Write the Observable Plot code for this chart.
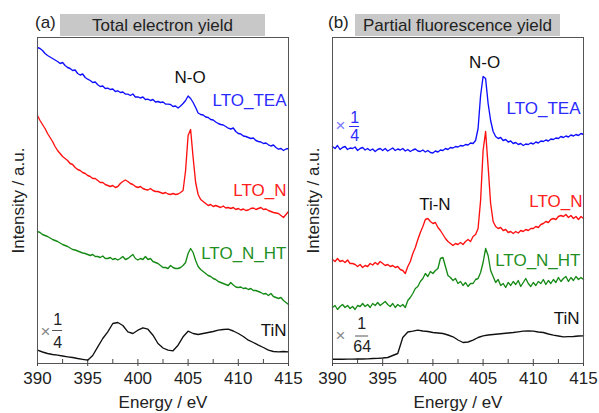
<!DOCTYPE html>
<html>
<head>
<meta charset="utf-8">
<script src="https://cdn.jsdelivr.net/npm/d3@7"></script>
<script src="https://cdn.jsdelivr.net/npm/@observablehq/plot@0.6"></script>
<style>
  body { margin: 0; background: #fff; font-family: "Liberation Sans", Arial, sans-serif; }
  #wrap { position: relative; width: 599px; height: 413px; overflow: hidden; background: #fff; }
  .hdr { position: absolute; top: 14px; width: 205px; height: 22px; background: #c8c8c8;
         font-size: 17px; line-height: 23px; text-align: center; color: #222; }
  .tag { position: absolute; top: 13px; font-size: 17px; line-height: 20px; color: #222; }
  #wrap svg { position: absolute; top: 0; }
</style>
</head>
<body>
<div id="wrap">
  <div class="tag" style="left:35px">(a)</div>
  <div class="hdr" style="left:60px">Total electron yield</div>
  <div class="tag" style="left:328px">(b)</div>
  <div class="hdr" style="left:355px">Partial fluorescence yield</div>
</div>
<script>
// Energy grids (eV)
const energyFine = d3.range(101).map(i => 390 + i * 0.25);
const energyCoarse = d3.range(51).map(i => 390 + i * 0.5);
const xTicks = [390, 395, 400, 405, 410, 415];
const xMinorTicks = [390, 392.5, 395, 397.5, 400, 402.5, 405, 407.5, 410, 412.5, 415];

// (a) Total electron yield, intensity (a.u., offset stacked)
const tey_LTO_TEA = [
  316, 315, 313, 310,
  308, 306.5, 305, 303.5,
  302, 300, 301, 298,
  296, 295, 293, 293.5,
  290, 288.5, 289.5, 286,
  284.3, 283, 281, 281.5,
  278.7, 277, 277.5, 275,
  275.3, 274, 274.5, 272,
  272.7, 271, 271.5, 269.5,
  269.3, 268, 269.5, 266.5,
  266.7, 265.5, 266.5, 264,
  264.3, 263, 264, 261.5,
  262, 261, 261.5, 259.5,
  259.3, 259, 257, 257.5,
  255.5, 257.5, 260, 263,
  267.5, 265, 261, 256,
  250.5, 249, 248.5, 246.5,
  246, 244, 243.5, 241.5,
  240, 239, 238.5, 237,
  235.3, 234.5, 235.5, 232,
  230, 229.5, 227.5, 227,
  226, 225, 225.5, 223,
  222, 221.5, 220, 220.5,
  218.7, 217.5, 218.5, 216,
  214.3, 215, 213, 214.5,
  215
];
const tey_LTO_N = [
  248, 243, 239, 235,
  230, 226, 222, 217,
  213, 210, 207, 205,
  203, 200, 199, 196,
  194, 193, 191, 190,
  188, 187, 185, 185,
  183, 181, 181, 179,
  178, 177, 178, 176,
  177, 180, 182, 183.5,
  182, 180, 179, 177,
  176, 177, 175, 174,
  173.5, 175, 173, 172,
  172, 171, 170, 171,
  169.5, 169, 170, 169,
  169.5, 171, 173, 193,
  228, 234, 206, 181,
  169, 164, 162, 160,
  158, 159, 157, 158,
  157, 156, 157.5, 155.5,
  156, 155, 156, 154,
  155, 153.5, 154.5, 153,
  153.5, 155, 155.5, 154,
  155, 156, 154, 154.5,
  153, 152, 151, 150.5,
  150, 148, 146, 149,
  152
];
const tey_LTO_N_HT = [
  132, 131, 129, 128,
  127, 125.5, 124, 123,
  122, 120.5, 119, 118,
  117, 115.5, 114, 113.5,
  112.5, 111.5, 110.5, 110,
  109, 108, 109, 107,
  107, 106, 107.5, 105,
  105, 106, 104, 105,
  103.5, 105, 107, 104,
  105, 107, 109, 105,
  103.5, 105, 104, 107,
  104, 105, 102, 101,
  100, 98, 96, 96,
  95, 98, 96, 95,
  95, 96, 98, 101,
  110, 115, 111, 103,
  97, 94, 92, 90,
  88, 87, 85, 84,
  82, 81, 80, 79,
  78, 81, 78.5, 76.5,
  76, 76.5, 75, 75.5,
  74, 75, 73, 73,
  72, 71, 69.5, 70,
  68, 70, 67, 66,
  65, 66, 63, 61,
  59
];
const tey_TiN = [
  13.3, 11.5, 10, 9, 8.3, 7.5, 6.7, 6, 5, 4.2,
  3.3, 8, 16.7, 25, 31.7, 40, 41, 38, 31.7, 30,
  33.3, 35.7, 34.3, 28.3, 20, 15.5, 13.3, 12.7, 18.3, 26.7,
  32.3, 30, 29, 30, 31, 32, 33.3, 34, 34.3, 32.5,
  30, 27, 23.3, 21, 18.3, 16, 13.3, 12, 11.7, 12,
  11.7
];

// (b) Partial fluorescence yield, intensity (a.u., offset stacked)
const pfy_LTO_TEA = [
  217, 215, 218, 214,
  216, 217, 214, 215.5,
  215, 216.5, 213, 215,
  216, 213.5, 215, 213,
  214.5, 212, 214, 215,
  213, 215, 212.5, 214,
  215.5, 213, 214.5, 213.5,
  215, 212.5, 214, 212,
  213.5, 214.5, 212.5, 212,
  213.5, 211.5, 213, 211,
  210.5, 212.5, 211.5, 213.5,
  213, 215, 214, 216,
  215.5, 217, 216.5, 218,
  217.5, 219, 218.5, 220.5,
  220, 223, 235, 268,
  287, 285, 260, 243,
  232, 227, 225, 226,
  223, 224, 221.5, 222.5,
  220, 221, 219, 220,
  218, 219.5, 219, 220.5,
  219.5, 221.5, 220.5, 222.5,
  222, 223.5, 222.5, 224.5,
  224, 225.5, 225, 227,
  226, 227.5, 226.5, 228.5,
  227.5, 229, 228, 230,
  229
];
const pfy_LTO_N = [
  104, 102, 105, 102,
  103, 101, 103.5, 100,
  100, 99, 97, 99,
  96, 98, 97, 100,
  98.5, 101, 99, 102,
  100, 98, 99, 97,
  98, 96, 97, 94,
  93, 90, 97, 102,
  110, 116, 124, 131,
  137, 144, 145, 142,
  140, 141, 136, 133,
  129, 125, 122, 120,
  118, 120, 119, 121,
  119, 122, 124, 122,
  127, 129, 135, 163,
  213, 232, 197, 160,
  142, 137, 135, 136,
  133, 134, 131, 132,
  130, 132, 130.5, 133,
  132, 134, 133, 135,
  135, 137, 136, 139,
  140, 142, 141, 144,
  145, 144, 147, 148,
  147, 149, 146, 148,
  145, 147, 144, 147,
  145
];
const pfy_LTO_N_HT = [
  56, 58, 54, 57,
  59, 56, 58, 55,
  57, 54, 58, 57,
  60, 57, 59, 56,
  60, 58, 61, 58,
  60, 62, 59, 57,
  60, 56, 59, 57,
  59, 56, 63, 66,
  70, 75, 77, 82,
  85, 90, 87, 92,
  90, 93, 95, 105,
  106, 97, 88, 86,
  83, 85, 80, 82,
  78, 81, 77, 80,
  80, 84, 85, 91,
  101, 115, 108, 93,
  87, 81, 84, 78,
  80, 76, 81, 78,
  82, 79, 83, 77,
  81, 85, 80, 77,
  81, 78, 82, 80,
  84, 79, 83, 80,
  84, 81, 86, 82,
  85, 87, 82, 86,
  83, 87, 84, 86,
  84
];
const pfy_TiN = [
  4.3, 4.3, 4.3, 4.4, 4.4, 4.5, 4.5, 4.7, 5, 5.2,
  5.5, 6, 8, 10, 26, 31.5, 32.3, 33.3, 32.5, 32,
  31, 30.5, 30, 28.5, 26.7, 23.5, 21, 21.5, 23.3, 26,
  27.7, 28.5, 29, 29.5, 30, 30.5, 31, 31.7, 32.3, 32.5,
  32.3, 31.5, 31, 29.5, 28.3, 27.5, 26.7, 26.8, 27, 27.5,
  27.7
];

const BLUE = "#0f0fff", RED = "#ff1010", GREEN = "#168a16", BLACK = "#111";
const BLUE_T = "#2b2bff", RED_T = "#ff2020", GREEN_T = "#1f8f1f";
const FONT = '"Liberation Sans", Arial, sans-serif';

function rows(energy, values) {
  return values.map((v, i) => ({E: energy[i], I: v}));
}
function lbl(E, I, t, opts = {}) {
  return Plot.text([{E, I, t}], {x: "E", y: "I", text: "t", fontSize: 17, lineAnchor: "middle", ...opts});
}

function makePanel(cfg) {
  const marks = [
    Plot.ruleX(xMinorTicks, {x: d => d, y1: 0, y2: 4, stroke: "#444", strokeWidth: 1}),
    ...cfg.series.map(s => Plot.line(rows(s.energy, s.values), {
      x: "E", y: "I", stroke: s.color, strokeWidth: 1.35, strokeLinejoin: "round"
    })),
    Plot.frame({stroke: "#555", strokeWidth: 1}),
    Plot.axisX({ticks: xTicks, tickSize: 3, tickPadding: 5, tickFormat: d => String(d),
                fontSize: 17, label: null, stroke: "#444", fill: "#222"}),
    Plot.text(["Energy / eV"], {frameAnchor: "bottom", dy: 39, fontSize: 17, lineAnchor: "middle", fill: "#222"}),
    Plot.text(["Intensity / a.u."], {frameAnchor: "left", dx: cfg.ylabDx, rotate: -90, fontSize: 17,
                lineAnchor: "middle", textAnchor: "middle", fill: "#222"}),
    ...cfg.labels
  ];
  const svg = Plot.plot({
    width: cfg.width, height: 413,
    marginTop: 37, marginBottom: 50, marginLeft: 37, marginRight: cfg.marginRight,
    x: {domain: [390, 415]},
    y: {domain: [0, 326], axis: null},
    style: {fontFamily: FONT, background: "transparent", color: "#222", overflow: "visible"},
    marks
  });
  svg.style.left = cfg.left + "px";
  return svg;
}

const wrap = document.getElementById("wrap");

// Panel (a)
wrap.appendChild(makePanel({
  left: 0, width: 311, marginRight: 23, ylabDx: -19,
  series: [
    {energy: energyFine, values: tey_LTO_TEA, color: BLUE},
    {energy: energyFine, values: tey_LTO_N, color: RED},
    {energy: energyFine, values: tey_LTO_N_HT, color: GREEN},
    {energy: energyCoarse, values: tey_TiN, color: BLACK}
  ],
  labels: [
    lbl(405.2, 286, "N-O", {fill: "#111"}),
    lbl(414.8, 263, "LTO_TEA", {fill: BLUE_T, textAnchor: "end"}),
    lbl(414.8, 173, "LTO_N", {fill: RED_T, textAnchor: "end"}),
    lbl(414.8, 110, "LTO_N_HT", {fill: GREEN_T, textAnchor: "end"}),
    lbl(414.8, 33, "TiN", {fill: "#111", textAnchor: "end"}),
    lbl(390.8, 32, "×", {fill: "#888", fontSize: 17}),
    lbl(392.0, 44, "1", {fill: "#222", fontSize: 16}),
    lbl(392.0, 21, "4", {fill: "#222", fontSize: 16}),
    Plot.ruleY([33], {x1: 391.5, x2: 392.5, stroke: "#555", strokeWidth: 1})
  ]
}));

// Panel (b)
wrap.appendChild(makePanel({
  left: 295, width: 304, marginRight: 16, ylabDx: -18.5,
  series: [
    {energy: energyFine, values: pfy_LTO_TEA, color: BLUE},
    {energy: energyFine, values: pfy_LTO_N, color: RED},
    {energy: energyFine, values: pfy_LTO_N_HT, color: GREEN},
    {energy: energyCoarse, values: pfy_TiN, color: BLACK}
  ],
  labels: [
    lbl(405.15, 301, "N-O", {fill: "#111"}),
    lbl(414.7, 255, "LTO_TEA", {fill: BLUE_T, textAnchor: "end"}),
    lbl(390.8, 238, "×", {fill: "#7777ff", fontSize: 17}),
    lbl(392.2, 246, "1", {fill: BLUE_T, fontSize: 16}),
    lbl(392.2, 228, "4", {fill: BLUE_T, fontSize: 16}),
    Plot.ruleY([237], {x1: 391.7, x2: 392.7, stroke: BLUE_T, strokeWidth: 1}),
    lbl(400.2, 159, "Ti-N", {fill: "#111"}),
    lbl(414.9, 162, "LTO_N", {fill: RED_T, textAnchor: "end"}),
    lbl(414.7, 103, "LTO_N_HT", {fill: GREEN_T, textAnchor: "end"}),
    lbl(414.6, 45, "TiN", {fill: "#111", textAnchor: "end"}),
    lbl(390.8, 28, "×", {fill: "#888", fontSize: 17}),
    lbl(392.9, 40, "1", {fill: "#222", fontSize: 16}),
    lbl(392.95, 17, "64", {fill: "#222", fontSize: 16}),
    Plot.ruleY([27.5], {x1: 392.3, x2: 393.6, stroke: "#555", strokeWidth: 1})
  ]
}));
</script>
</body>
</html>
